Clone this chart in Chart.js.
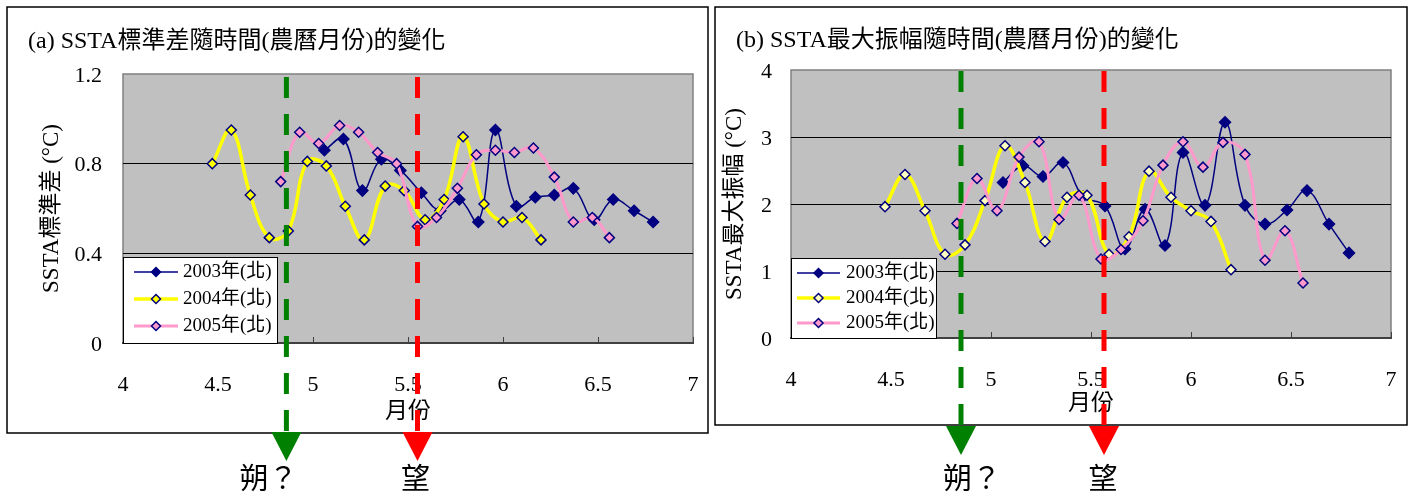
<!DOCTYPE html>
<html>
<head>
<meta charset="utf-8">
<title>SSTA</title>
<script src="https://cdn.jsdelivr.net/npm/chart.js"></script>
<style>
  body { margin: 0; background: #fff; overflow: hidden; }
  #wrap { position: relative; width: 1416px; height: 500px; }
  canvas { position: absolute; top: 0; }
  #chartA { left: 0; }
  #chartB { left: 710px; }
</style>
</head>
<body>
<div id="wrap">
  <canvas id="chartA" width="710" height="500"></canvas>
  <canvas id="chartB" width="706" height="500"></canvas>
</div>
<script>
let seriesNames = ["2003年(北)", "2004年(北)", "2005年(北)"];

// lunar month position of each sample
let months2003 = [5.06, 5.16, 5.26, 5.36, 5.46, 5.57, 5.67, 5.77, 5.87, 5.96, 6.07, 6.17, 6.27, 6.37, 6.48, 6.58, 6.69, 6.79];
let months2004 = [4.47, 4.57, 4.67, 4.77, 4.87, 4.97, 5.07, 5.17, 5.27, 5.38, 5.48, 5.59, 5.69, 5.79, 5.90, 6.00, 6.10, 6.20];
let months2005 = [4.83, 4.93, 5.03, 5.14, 5.24, 5.34, 5.44, 5.55, 5.65, 5.76, 5.86, 5.96, 6.06, 6.16, 6.27, 6.37, 6.47, 6.56];

// (a) standard deviation
let std2003 = [0.86, 0.91, 0.68, 0.82, 0.77, 0.67, 0.59, 0.64, 0.54, 0.95, 0.61, 0.65, 0.66, 0.69, 0.55, 0.64, 0.59, 0.54];
let std2004 = [0.80, 0.95, 0.66, 0.47, 0.50, 0.81, 0.79, 0.61, 0.46, 0.70, 0.68, 0.55, 0.64, 0.92, 0.62, 0.54, 0.56, 0.46];
let std2005 = [0.72, 0.94, 0.89, 0.97, 0.94, 0.85, 0.80, 0.52, 0.56, 0.69, 0.84, 0.86, 0.85, 0.87, 0.74, 0.54, 0.56, 0.47];

// (b) max amplitude
let amp2003 = [2.32, 2.57, 2.41, 2.62, 2.11, 1.97, 1.33, 1.92, 1.38, 2.77, 1.98, 3.22, 1.98, 1.70, 1.91, 2.20, 1.70, 1.27];
let amp2004 = [1.96, 2.44, 1.90, 1.25, 1.39, 2.05, 2.87, 2.32, 1.44, 2.10, 2.13, 1.25, 1.51, 2.49, 2.10, 1.90, 1.74, 1.02];
let amp2005 = [1.71, 2.38, 1.90, 2.70, 2.93, 1.77, 2.13, 1.18, 1.32, 1.75, 2.58, 2.93, 2.55, 2.92, 2.74, 1.16, 1.60, 0.82];

let xTicks = ["4", "4.5", "5", "5.5", "6", "6.5", "7"];
let stdTicks = ["0", "0.4", "0.8", "1.2"];
let ampTicks = ["0", "1", "2", "3", "4"];

let moonLabels = ["朔？", "望"];
let moonA = [4.86, 5.55];
let moonB = [4.85, 5.565];

let serif = '"Liberation Serif", "Noto Sans CJK TC", serif';
let lineColors = ["#000080", "#FFFF00", "#FF99CC"];
let lineWidths = [1.5, 3.5, 3];

function makeSets(ys, yellowFill) {
  let xs = [months2003, months2004, months2005];
  let fills = ["#000080", yellowFill, "#FF99CC"];
  return ys.map(function (vals, k) {
    return {
      label: seriesNames[k],
      data: vals.map(function (v, i) { return { x: xs[k][i], y: v }; }),
      showLine: true,
      tension: 0.4,
      borderColor: lineColors[k],
      borderWidth: lineWidths[k],
      pointStyle: "rectRot",
      pointRadius: k == 0 ? 5.5 : 5,
      pointBackgroundColor: fills[k],
      pointBorderColor: "#000080",
      pointBorderWidth: 1.5,
      order: 3 - k
    };
  });
}

function diamond(ctx, x, y, r) {
  ctx.beginPath();
  ctx.moveTo(x, y - r);
  ctx.lineTo(x + r, y);
  ctx.lineTo(x, y + r);
  ctx.lineTo(x - r, y);
  ctx.closePath();
}

function decorPlugin(d) {
  return {
    id: "decor",
    beforeDraw: function (chart) {
      let ctx = chart.ctx, a = chart.chartArea;
      ctx.save();
      ctx.fillStyle = "#fff";
      ctx.fillRect(0, 0, chart.width, chart.height);
      ctx.strokeStyle = "#000";
      ctx.lineWidth = 1.5;
      ctx.strokeRect(d.box[0], d.box[1], d.box[2], d.box[3]);
      ctx.fillStyle = "#c0c0c0";
      ctx.fillRect(a.left, a.top, a.right - a.left, a.bottom - a.top);
      ctx.strokeStyle = "#808080";
      ctx.lineWidth = 1.5;
      ctx.strokeRect(a.left, a.top, a.right - a.left, a.bottom - a.top);
      ctx.restore();
    },
    afterDraw: function (chart) {
      let ctx = chart.ctx, a = chart.chartArea;
      ctx.save();

      // legend box inside the plot, bottom left
      let lx = a.left, ly = a.bottom - d.legendH;
      ctx.fillStyle = "#fff";
      ctx.fillRect(lx, ly, d.legendW, d.legendH);
      ctx.strokeStyle = "#000";
      ctx.lineWidth = 1;
      ctx.strokeRect(lx + 0.5, ly + 0.5, d.legendW, d.legendH);
      ctx.font = "19px " + serif;
      ctx.textBaseline = "middle";
      ctx.textAlign = "left";
      chart.data.datasets.forEach(function (ds, k) {
        let y = ly + d.rowTop + k * d.rowGap;
        ctx.strokeStyle = ds.borderColor;
        ctx.lineWidth = ds.borderWidth;
        ctx.beginPath();
        ctx.moveTo(lx + d.sample[0], y);
        ctx.lineTo(lx + d.sample[1], y);
        ctx.stroke();
        diamond(ctx, lx + (d.sample[0] + d.sample[1]) / 2, y, 4.5);
        ctx.fillStyle = ds.pointBackgroundColor;
        ctx.fill();
        ctx.strokeStyle = "#000080";
        ctx.lineWidth = 1.5;
        ctx.stroke();
        ctx.fillStyle = "#000";
        ctx.fillText(ds.label, lx + d.textX, y);
      });

      // new moon / full moon markers
      let colors = ["#008000", "#FF0000"];
      d.moon.forEach(function (v, k) {
        let x = chart.scales.x.getPixelForValue(v);
        ctx.strokeStyle = colors[k];
        ctx.lineWidth = 5;
        ctx.setLineDash([21, 16]);
        ctx.beginPath();
        ctx.moveTo(x, d.dashTop);
        ctx.lineTo(x, d.arrowTop);
        ctx.stroke();
        ctx.setLineDash([]);
        ctx.fillStyle = colors[k];
        ctx.beginPath();
        ctx.moveTo(x - 15, d.arrowTop);
        ctx.lineTo(x + 15, d.arrowTop);
        ctx.lineTo(x, d.arrowTip);
        ctx.closePath();
        ctx.fill();
        ctx.fillStyle = "#000";
        ctx.font = "29px " + serif;
        ctx.textAlign = k == 0 ? "left" : "center";
        ctx.fillText(moonLabels[k], x + d.labelDx[k], 481);
      });
      ctx.restore();
    }
  };
}

function makeOptions(o) {
  return {
    responsive: false,
    animation: false,
    devicePixelRatio: 1,
    layout: { padding: { left: o.padLeft, right: o.padRight, top: 0, bottom: 0 } },
    plugins: {
      legend: { display: false },
      tooltip: { enabled: false },
      title: {
        display: true,
        text: o.title,
        align: "start",
        color: "#000",
        font: { family: serif, size: 24, weight: "normal" },
        padding: { top: o.titleTop, bottom: o.titleBottom }
      }
    },
    scales: {
      x: {
        type: "linear",
        min: 4,
        max: 7,
        afterFit: function (s) { s.height = o.xHeight; },
        ticks: {
          stepSize: 0.5,
          autoSkip: false,
          maxRotation: 0,
          padding: 8.4,
          color: "#000",
          // tall line box pushes the labels down without widening the side padding
          font: { family: serif, size: 22, lineHeight: 3.6 },
          callback: function (v, i) { return xTicks[i]; }
        },
        grid: { drawOnChartArea: false, drawTicks: true, tickLength: -6, color: "#404040" },
        border: { display: true, color: "#404040", width: 2 },
        title: {
          display: true,
          text: "月份",
          color: "#000",
          font: { family: serif, size: 23 },
          padding: { top: 0, bottom: o.xTitleBottom }
        }
      },
      y: {
        min: 0,
        max: o.yMax,
        afterFit: function (s) { s.width = o.yWidth; },
        ticks: {
          stepSize: o.yStep,
          padding: o.yPad,
          labelOffset: 2,
          color: "#000",
          font: { family: serif, size: 22 },
          callback: function (v, i) { return o.yTicks[i]; }
        },
        grid: {
          drawTicks: false,
          lineWidth: 1,
          color: function (c) {
            return (c.index == 0 || c.index == o.yTicks.length - 1) ? "rgba(0,0,0,0)" : "#000";
          }
        },
        border: { display: false },
        title: {
          display: true,
          text: o.yTitle,
          color: "#000",
          font: { family: serif, size: 23 },
          padding: { top: o.yTitlePad, bottom: 0 }
        }
      }
    }
  };
}

let chartA = new Chart(document.getElementById("chartA"), {
  type: "scatter",
  data: { datasets: makeSets([std2003, std2004, std2005], "#FFFF00") },
  options: makeOptions({
    title: "(a) SSTA標準差隨時間(農曆月份)的變化",
    padLeft: 28, padRight: 17, titleTop: 27.6, titleBottom: 17.6,
    xHeight: 157, xTitleBottom: 74,
    yMax: 1.2, yStep: 0.4, yTicks: stdTicks, yWidth: 95, yPad: 21,
    yTitle: "SSTA標準差 (°C)", yTitlePad: 10
  }),
  plugins: [decorPlugin({
    box: [7, 7, 701, 426],
    legendW: 154, legendH: 86, rowTop: 15, rowGap: 27, sample: [11, 55], textX: 60,
    moon: moonA, dashTop: 77, arrowTop: 432, arrowTip: 461, labelDx: [-47, -2]
  })]
});

let chartB = new Chart(document.getElementById("chartB"), {
  type: "scatter",
  data: { datasets: makeSets([amp2003, amp2004, amp2005], "#FFFFC0") },
  options: makeOptions({
    title: "(b) SSTA最大振幅隨時間(農曆月份)的變化",
    padLeft: 26, padRight: 25, titleTop: 26.6, titleBottom: 14.6,
    xHeight: 162, xTitleBottom: 82,
    yMax: 4, yStep: 1, yTicks: ampTicks, yWidth: 55, yPad: 19,
    yTitle: "SSTA最大振幅 (°C)", yTitlePad: -14.8
  }),
  plugins: [decorPlugin({
    box: [5, 7, 692, 418],
    legendW: 145, legendH: 80, rowTop: 15, rowGap: 25, sample: [6, 49], textX: 55,
    moon: moonB, dashTop: 71, arrowTop: 426, arrowTip: 455, labelDx: [-18, -1]
  })]
});
</script>
</body>
</html>
